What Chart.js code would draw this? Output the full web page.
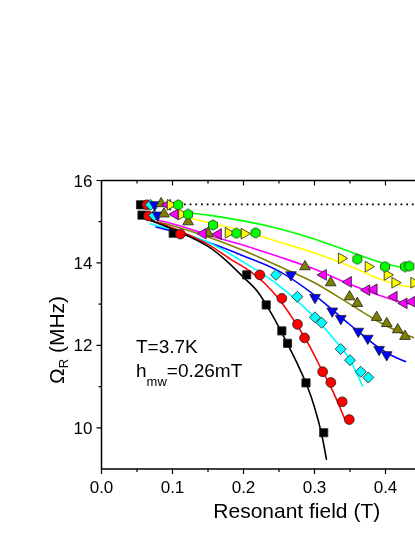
<!DOCTYPE html>
<html><head><meta charset="utf-8">
<script src="https://cdn.jsdelivr.net/npm/chart.js@4.4.1/dist/chart.umd.min.js"></script>
<style>
html,body{margin:0;padding:0;background:#fff;overflow:hidden;width:415px;height:537px}
#wrap{position:absolute;left:0;top:0;width:520px;height:537px}
</style>
</head><body><div id="wrap"><canvas id="c" width="520" height="537"></canvas></div>
<script>
// ---- axis ticks ----
const xTickValues = [0, 0.1, 0.2, 0.3, 0.4, 0.5];
const xTickLabels = ['0.0', '0.1', '0.2', '0.3', '0.4', '0.5'];
const xMinorValues = [0.05, 0.15, 0.25, 0.35, 0.45];
const yTickValues = [10, 12, 14, 16];
const yTickLabels = ['10', '12', '14', '16'];
const yMinorValues = [11, 13, 15];

// ---- measured points: resonant field (T) and Rabi frequency (MHz) ----
const blackField = [0.055, 0.057, 0.101, 0.2045, 0.232, 0.254, 0.262, 0.288, 0.313];
const blackFreq  = [15.41, 15.16, 14.72, 13.71, 12.98, 12.35, 12.05, 11.09, 9.88];
const redField = [0.064, 0.066, 0.111, 0.223, 0.254, 0.276, 0.286, 0.3115, 0.323, 0.339, 0.349];
const redFreq  = [15.41, 15.14, 14.70, 13.71, 13.14, 12.51, 12.18, 11.36, 11.10, 10.63, 10.20];
const cyanField = [0.069, 0.074, 0.2458, 0.2758, 0.3007, 0.310, 0.3369, 0.350, 0.3651, 0.3758];
const cyanFreq  = [15.41, 15.15, 13.71, 13.18, 12.68, 12.55, 11.91, 11.64, 11.36, 11.22];
const blueField = [0.075, 0.079, 0.2669, 0.3007, 0.325, 0.337, 0.3617, 0.375, 0.391, 0.4017];
const blueFreq  = [15.41, 15.16, 13.71, 13.16, 12.83, 12.65, 12.34, 12.17, 11.90, 11.77];
const oliveField = [0.084, 0.088, 0.122, 0.150, 0.2866, 0.3228, 0.3494, 0.3603, 0.3876, 0.4017, 0.4172, 0.4275];
const oliveFreq  = [15.44, 15.19, 15.00, 14.72, 13.91, 13.52, 13.18, 13.02, 12.68, 12.53, 12.38, 12.22];
const magentaField = [0.093, 0.1035, 0.143, 0.1645, 0.3124, 0.3476, 0.3735, 0.3838, 0.412, 0.426, 0.437];
const magentaFreq  = [15.41, 15.18, 14.71, 14.70, 13.71, 13.54, 13.34, 13.36, 13.18, 13.02, 13.06];
const yellowField = [0.097, 0.113, 0.1786, 0.201, 0.338, 0.3758, 0.4025, 0.4134, 0.44];
const yellowFreq  = [15.41, 15.18, 14.73, 14.71, 14.11, 13.91, 13.71, 13.52, 13.52];
const greenField = [0.108, 0.122, 0.157, 0.190, 0.217, 0.3603, 0.3993, 0.4275, 0.4335];
const greenFreq  = [15.41, 15.18, 14.92, 14.72, 14.73, 14.09, 13.91, 13.91, 13.92];

// ---- fitted curves ----
const blackFitField = [0.062, 0.1, 0.15, 0.176, 0.2, 0.22, 0.24, 0.26, 0.28, 0.29, 0.30, 0.31, 0.317];
const blackFitFreq  = [15.08, 14.82, 14.4, 14.05, 13.65, 13.3, 12.75, 12.1, 11.4, 11.0, 10.5, 9.85, 9.22];
const redFitField = [0.062, 0.1, 0.15, 0.181, 0.209, 0.23, 0.251, 0.275, 0.2925, 0.308, 0.325, 0.343];
const redFitFreq  = [15.08, 14.85, 14.45, 14.1, 13.8, 13.5, 13.1, 12.5, 12.0, 11.48, 10.92, 10.2];
const cyanFitField = [0.068, 0.1, 0.15, 0.2, 0.25, 0.3, 0.33, 0.35, 0.368];
const cyanFitFreq  = [14.95, 14.8, 14.5, 14.02, 13.45, 12.68, 12.1, 11.65, 11.0];
const blueFitField = [0.076, 0.1, 0.15, 0.2, 0.25, 0.3, 0.35, 0.39, 0.41, 0.429];
const blueFitFreq  = [14.88, 14.77, 14.5, 14.17, 13.8, 13.22, 12.5, 11.95, 11.74, 11.6];
const oliveFitField = [0.078, 0.1, 0.15, 0.2, 0.25, 0.3, 0.35, 0.39, 0.42, 0.44];
const oliveFitFreq  = [15.0, 14.9, 14.63, 14.3, 13.92, 13.52, 13.0, 12.58, 12.32, 12.18];
const magentaFitField = [0.078, 0.12, 0.15, 0.2, 0.25, 0.3, 0.35, 0.39, 0.42, 0.44];
const magentaFitFreq  = [15.05, 14.85, 14.68, 14.43, 14.15, 13.85, 13.48, 13.22, 13.06, 12.99];
const yellowFitField = [0.1, 0.15, 0.2, 0.25, 0.3, 0.35, 0.39, 0.42, 0.44];
const yellowFitFreq  = [15.2, 14.98, 14.77, 14.51, 14.24, 13.92, 13.62, 13.46, 13.41];
const greenFitField = [0.122, 0.15, 0.2, 0.25, 0.3, 0.35, 0.39, 0.42, 0.44];
const greenFitFreq  = [15.22, 15.16, 15.02, 14.83, 14.58, 14.27, 14.03, 13.9, 13.84];
const limitField = [0.1, 0.55];
const limitFreq  = [15.42, 15.42];

const FONT = '"Liberation Sans", Arial, sans-serif';
const pts = (xs, ys) => xs.map((x, i) => ({x: x, y: ys[i]}));

// hexagon marker
function hexagon(fill) {
  const c = document.createElement('canvas');
  c.width = 12; c.height = 12;
  const g = c.getContext('2d');
  g.beginPath();
  for (let k = 0; k < 6; k++) {
    const a = Math.PI / 6 + k * Math.PI / 3;
    const px = 6 + 5.2 * Math.cos(a), py = 6 + 5.2 * Math.sin(a);
    k ? g.lineTo(px, py) : g.moveTo(px, py);
  }
  g.closePath();
  g.fillStyle = fill; g.fill();
  g.lineWidth = 0.8; g.strokeStyle = '#1a3a00'; g.stroke();
  return c;
}

function markers(xs, ys, color, style, rot, r, order) {
  return {data: pts(xs, ys), showLine: false, pointStyle: style, rotation: rot,
    pointRadius: r, pointBackgroundColor: color, pointBorderColor: '#202020',
    pointBorderWidth: 0.8, order: order};
}
function fit(xs, ys, color) {
  return {data: pts(xs, ys), showLine: true, pointRadius: 0, borderColor: color,
    borderWidth: 1.6, cubicInterpolationMode: 'monotone', fill: false, order: 30};
}

const axisPlugin = {
  id: 'axes',
  afterDatasetsDraw(chart) {
    const ctx = chart.ctx, a = chart.chartArea;
    const xs = chart.scales.x, ys = chart.scales.y;
    ctx.save();
    ctx.strokeStyle = '#000'; ctx.fillStyle = '#000'; ctx.lineWidth = 1.5;
    ctx.beginPath();
    ctx.moveTo(a.left, a.top); ctx.lineTo(a.left, a.bottom); ctx.lineTo(a.right, a.bottom);
    ctx.moveTo(a.left, a.top); ctx.lineTo(a.right, a.top);
    ctx.stroke();
    ctx.lineWidth = 1.2;
    ctx.beginPath();
    xTickValues.forEach(v => { const p = xs.getPixelForValue(v);
      ctx.moveTo(p, a.bottom); ctx.lineTo(p, a.bottom + 5);
      ctx.moveTo(p, a.top); ctx.lineTo(p, a.top + 5); });
    xMinorValues.forEach(v => { const p = xs.getPixelForValue(v);
      ctx.moveTo(p, a.bottom); ctx.lineTo(p, a.bottom + 3);
      ctx.moveTo(p, a.top); ctx.lineTo(p, a.top + 3); });
    yTickValues.forEach(v => { const p = ys.getPixelForValue(v);
      ctx.moveTo(a.left, p); ctx.lineTo(a.left - 5, p); });
    yMinorValues.forEach(v => { const p = ys.getPixelForValue(v);
      ctx.moveTo(a.left, p); ctx.lineTo(a.left - 3, p); });
    ctx.stroke();
    // tick labels
    ctx.font = '17px ' + FONT;
    ctx.textAlign = 'center'; ctx.textBaseline = 'alphabetic';
    xTickValues.forEach((v, i) => ctx.fillText(xTickLabels[i], xs.getPixelForValue(v), a.bottom + 24));
    ctx.textAlign = 'right';
    yTickValues.forEach((v, i) => ctx.fillText(yTickLabels[i], a.left - 9, ys.getPixelForValue(v) + 6));
    // x title
    ctx.textAlign = 'center';
    ctx.font = '21px ' + FONT;
    ctx.fillText('Resonant field (T)', (a.left + a.right) / 2, 518);
    // y title (rotated, with subscript)
    ctx.save();
    ctx.translate(63.5, 384);
    ctx.rotate(-Math.PI / 2);
    ctx.textAlign = 'left';
    ctx.font = '21px ' + FONT;
    let w = ctx.measureText('\u03A9').width;
    ctx.fillText('\u03A9', 0, 0);
    ctx.font = '13px ' + FONT;
    ctx.fillText('R', w, 4);
    w += ctx.measureText('R').width;
    ctx.font = '21px ' + FONT;
    ctx.fillText(' (MHz)', w, 0);
    ctx.restore();
    // annotations
    ctx.textAlign = 'left';
    ctx.font = '19px ' + FONT;
    ctx.fillText('T=3.7K', 136, 353);
    let x0 = 136;
    ctx.fillText('h', x0, 377);
    x0 += ctx.measureText('h').width;
    ctx.font = '13px ' + FONT;
    ctx.fillText('mw', x0, 386);
    x0 += ctx.measureText('mw').width;
    ctx.font = '19px ' + FONT;
    ctx.fillText('=0.26mT', x0, 377);
    ctx.restore();
  }
};

const chart = new Chart(document.getElementById('c'), {
  type: 'scatter',
  data: {
    datasets: [
      {data: pts(limitField, limitFreq), showLine: true, pointRadius: 0, borderColor: '#000',
        borderWidth: 1.6, borderDash: [1.8, 3.9], order: 40},
      fit(blackFitField, blackFitFreq, '#000000'),
      fit(redFitField, redFitFreq, '#ff0000'),
      fit(cyanFitField, cyanFitFreq, '#00ffff'),
      fit(blueFitField, blueFitFreq, '#0000ff'),
      fit(oliveFitField, oliveFitFreq, '#808000'),
      fit(magentaFitField, magentaFitFreq, '#ff00ff'),
      fit(yellowFitField, yellowFitFreq, '#ffff00'),
      fit(greenFitField, greenFitFreq, '#00ff00'),
      markers(blackField, blackFreq, '#000000', 'rect', 0, 5.8, 8),
      markers(redField, redFreq, '#ff0000', 'circle', 0, 4.9, 7),
      markers(cyanField, cyanFreq, '#00ffff', 'rectRot', 0, 5.5, 6),
      markers(blueField, blueFreq, '#0000ff', 'triangle', 180, 6.2, 5),
      markers(oliveField, oliveFreq, '#808000', 'triangle', 0, 6.2, 4),
      markers(magentaField, magentaFreq, '#ff00ff', 'triangle', 270, 6.2, 3),
      markers(yellowField, yellowFreq, '#ffff00', 'triangle', 90, 6.2, 2),
      markers(greenField, greenFreq, '#00ff00', hexagon('#00ff00'), 0, 6, 1)
    ]
  },
  options: {
    responsive: false,
    animation: false,
    devicePixelRatio: 1,
    layout: {padding: {left: 101.5, right: 28, top: 180.5, bottom: 68}},
    plugins: {legend: {display: false}, tooltip: {enabled: false}},
    events: [],
    scales: {
      x: {type: 'linear', min: 0, max: 0.55, display: false},
      y: {type: 'linear', min: 9, max: 16, display: false}
    }
  },
  plugins: [axisPlugin]
});
</script>
</body></html>
